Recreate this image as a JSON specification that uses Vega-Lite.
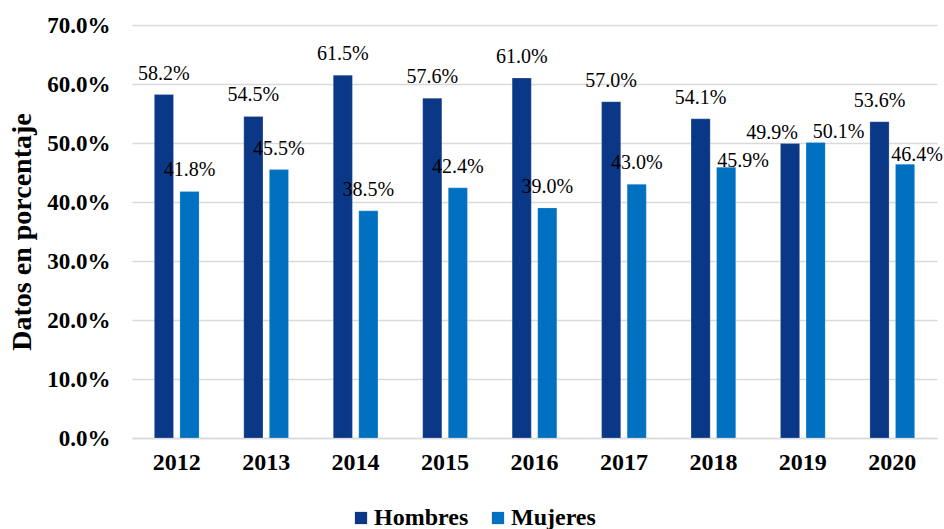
{
  "$schema": "https://vega.github.io/schema/vega-lite/v6.json",
  "width": 805,
  "height": 413,
  "padding": {"left": 132, "top": 25, "right": 7, "bottom": 91},
  "autosize": {"type": "none"},
  "background": "white",
  "config": {
    "view": {"stroke": null},
    "font": "'Liberation Serif', 'Times New Roman', serif"
  },
  "data": {
    "values": [
      {"year": "2012", "sexo": "Hombres", "valor": 0.582},
      {"year": "2012", "sexo": "Mujeres", "valor": 0.418},
      {"year": "2013", "sexo": "Hombres", "valor": 0.545},
      {"year": "2013", "sexo": "Mujeres", "valor": 0.455},
      {"year": "2014", "sexo": "Hombres", "valor": 0.615},
      {"year": "2014", "sexo": "Mujeres", "valor": 0.385},
      {"year": "2015", "sexo": "Hombres", "valor": 0.576},
      {"year": "2015", "sexo": "Mujeres", "valor": 0.424},
      {"year": "2016", "sexo": "Hombres", "valor": 0.610},
      {"year": "2016", "sexo": "Mujeres", "valor": 0.390},
      {"year": "2017", "sexo": "Hombres", "valor": 0.570},
      {"year": "2017", "sexo": "Mujeres", "valor": 0.430},
      {"year": "2018", "sexo": "Hombres", "valor": 0.541},
      {"year": "2018", "sexo": "Mujeres", "valor": 0.459},
      {"year": "2019", "sexo": "Hombres", "valor": 0.499},
      {"year": "2019", "sexo": "Mujeres", "valor": 0.501},
      {"year": "2020", "sexo": "Hombres", "valor": 0.536},
      {"year": "2020", "sexo": "Mujeres", "valor": 0.464}
    ]
  },
  "encoding": {
    "x": {
      "field": "year",
      "type": "nominal",
      "scale": {"paddingInner": 0.5, "paddingOuter": 0.25},
      "axis": {
        "title": null,
        "labelAngle": 0,
        "labelFont": "'Liberation Serif', 'Times New Roman', serif",
        "labelFontWeight": "bold",
        "labelFontSize": 24,
        "labelColor": "#000000",
        "labelPadding": 12,
        "ticks": false,
        "domainColor": "#d9d9d9",
        "domainWidth": 1.5,
        "grid": false
      }
    },
    "xOffset": {"field": "sexo", "type": "nominal", "scale": {"paddingInner": 0.25}},
    "y": {
      "field": "valor",
      "type": "quantitative",
      "scale": {"domain": [0, 0.7], "nice": false},
      "axis": {
        "title": "Datos en porcentaje",
        "titleFont": "'Liberation Serif', 'Times New Roman', serif",
        "titleFontWeight": "bold",
        "titleFontSize": 28,
        "titleColor": "#000000",
        "titlePadding": 10,
        "format": ".1%",
        "values": [0, 0.1, 0.2, 0.3, 0.4, 0.5, 0.6, 0.7],
        "labelFont": "'Liberation Serif', 'Times New Roman', serif",
        "labelFontWeight": "bold",
        "labelFontSize": 23,
        "labelColor": "#000000",
        "labelPadding": 22,
        "ticks": false,
        "domain": false,
        "gridColor": "#d9d9d9",
        "gridWidth": 1.5
      }
    },
    "color": {
      "field": "sexo",
      "type": "nominal",
      "scale": {"domain": ["Hombres", "Mujeres"], "range": ["#0b3886", "#0070c0"]},
      "legend": {
        "title": null,
        "orient": "none",
        "direction": "horizontal",
        "legendX": 217,
        "legendY": 481,
        "symbolType": "square",
        "symbolSize": 150,
        "symbolStrokeWidth": 0,
        "symbolOpacity": 1,
        "labelFont": "'Liberation Serif', 'Times New Roman', serif",
        "labelFontWeight": "bold",
        "labelFontSize": 24,
        "labelColor": "#000000",
        "labelOffset": 1,
        "columnPadding": 17
      }
    }
  },
  "layer": [
    {"mark": {"type": "bar", "stroke": "#ffffff", "strokeWidth": 0.5, "strokeOpacity": 0.4}},
    {
      "transform": [{"filter": "!((datum.year == '2019') || (datum.sexo == 'Mujeres' && (datum.year == '2018' || datum.year == '2020')))"}],
      "mark": {"type": "text", "baseline": "alphabetic", "dy": -15, "fontSize": 20, "font": "'Liberation Serif', 'Times New Roman', serif"},
      "encoding": {"text": {"field": "valor", "type": "quantitative", "format": ".1%"}, "color": {"value": "#000000"}}
    },
    {
      "transform": [{"filter": "datum.year == '2019' && datum.sexo == 'Hombres'"}],
      "mark": {"type": "text", "baseline": "alphabetic", "dx": -18, "dy": -5, "fontSize": 20, "font": "'Liberation Serif', 'Times New Roman', serif"},
      "encoding": {"text": {"field": "valor", "type": "quantitative", "format": ".1%"}, "color": {"value": "#000000"}}
    },
    {
      "transform": [{"filter": "datum.year == '2019' && datum.sexo == 'Mujeres'"}],
      "mark": {"type": "text", "baseline": "alphabetic", "dx": 23, "dy": -4, "fontSize": 20, "font": "'Liberation Serif', 'Times New Roman', serif"},
      "encoding": {"text": {"field": "valor", "type": "quantitative", "format": ".1%"}, "color": {"value": "#000000"}}
    },
    {
      "transform": [{"filter": "datum.year == '2018' && datum.sexo == 'Mujeres'"}],
      "mark": {"type": "text", "baseline": "alphabetic", "dx": 17, "dy": 0, "fontSize": 20, "font": "'Liberation Serif', 'Times New Roman', serif"},
      "encoding": {"text": {"field": "valor", "type": "quantitative", "format": ".1%"}, "color": {"value": "#000000"}}
    },
    {
      "transform": [{"filter": "datum.year == '2020' && datum.sexo == 'Mujeres'"}],
      "mark": {"type": "text", "baseline": "alphabetic", "dx": 12, "dy": -3, "fontSize": 20, "font": "'Liberation Serif', 'Times New Roman', serif"},
      "encoding": {"text": {"field": "valor", "type": "quantitative", "format": ".1%"}, "color": {"value": "#000000"}}
    }
  ]
}
